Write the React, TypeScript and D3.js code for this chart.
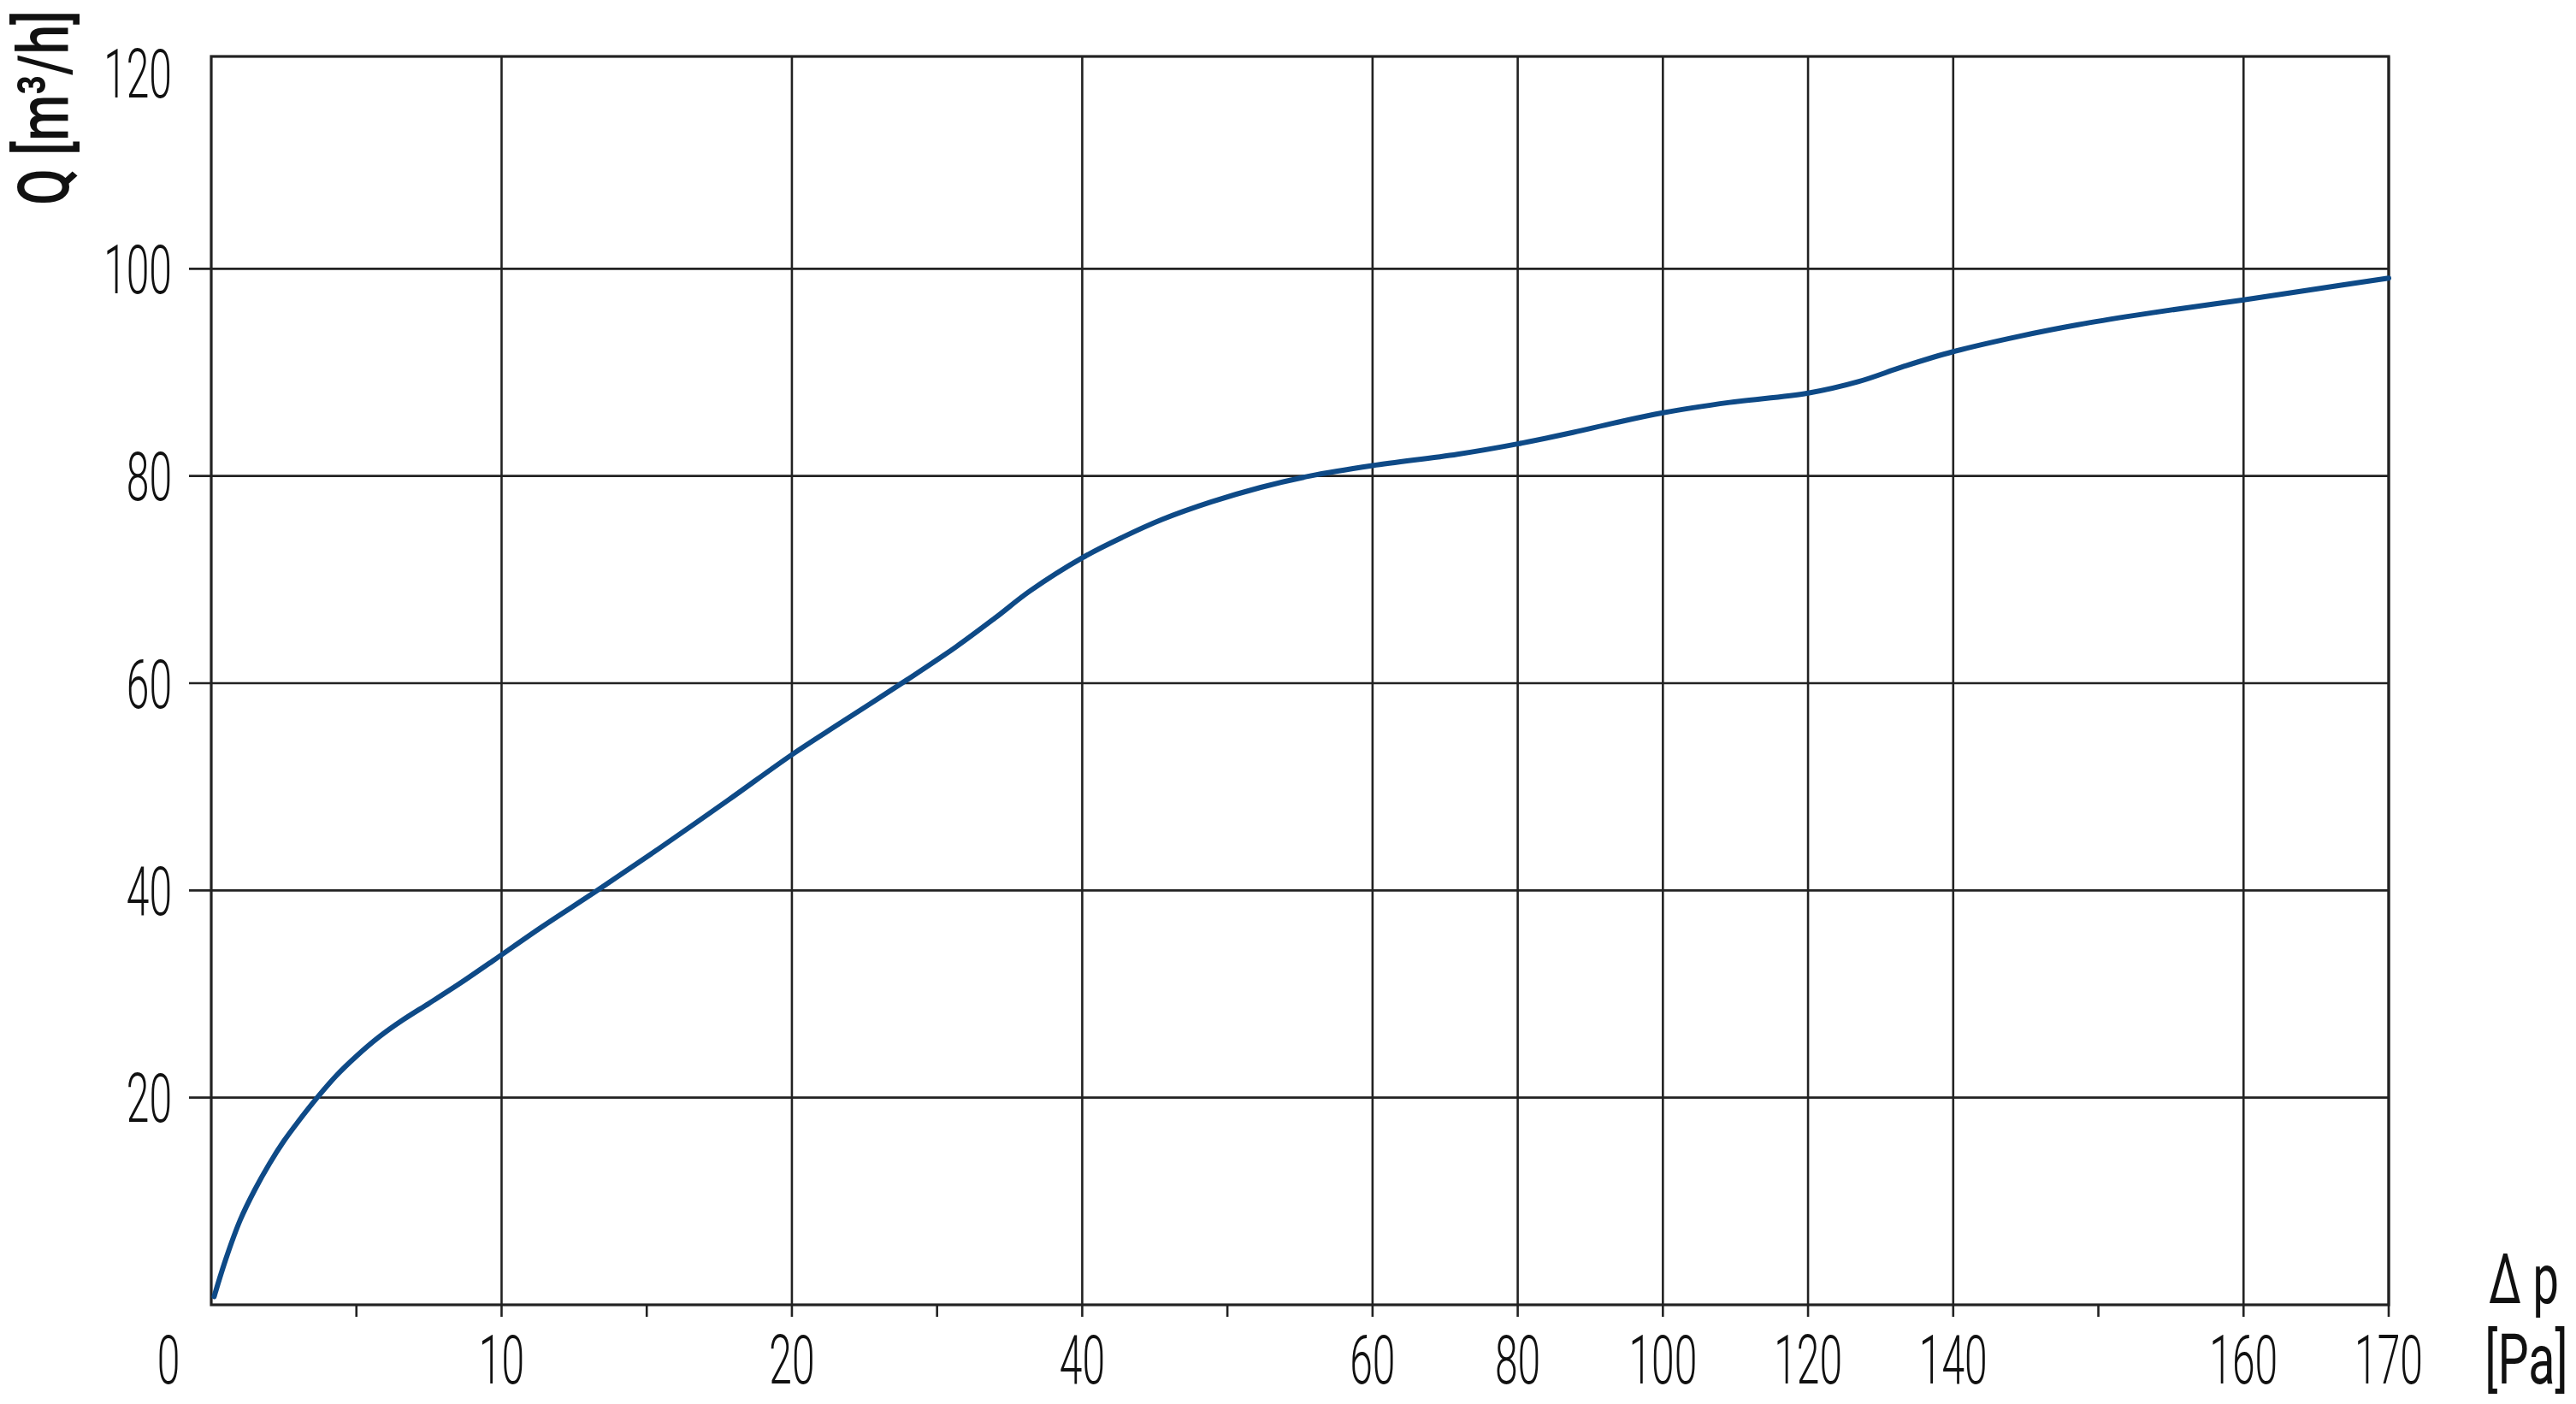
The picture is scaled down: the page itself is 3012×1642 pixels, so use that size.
import React from 'react';
import * as d3 from 'd3';

const W = 3012;
const H = 1642;
const margin = { left: 247, right: 219, top: 66, bottom: 116 };

// the pressure axis is stretched piecewise: each break sits on a grid step
const xBreaks = [0, 20, 60, 140, 160, 170];
const xBreakSteps = [0, 4, 8, 12, 14, 15];
const xMajorTicks = [0, 10, 20, 40, 60, 80, 100, 120, 140, 160, 170];
const xMinorTicks = [5, 15, 30, 50, 150];
const yTicks = [20, 40, 60, 80, 100, 120];

// Δp [Pa] -> Q [m³/h]
const pressure = [0.1, 0.5, 1.0, 1.5, 2.0, 2.5, 3.0, 3.65, 4.3, 5.0, 5.8, 6.6, 7.5, 8.5, 9.7, 11.4, 13.3, 15.4, 17.8, 20, 23.5, 27.9, 31.3, 34, 36.4, 40, 42.8, 45.5, 48.9, 52.3, 55.7, 60, 71.7, 80, 87.6, 93.2, 100, 109.2, 120, 126.9, 133.3, 140, 144.6, 148.6, 152.5, 156.4, 160, 164.3, 170];
const flow = [0.8, 4.4, 8.2, 11.1, 13.6, 15.8, 17.7, 20.0, 22.1, 24.0, 25.9, 27.5, 29.1, 30.9, 33.2, 36.5, 40.0, 44.0, 48.7, 53.1, 56.3, 60.3, 63.5, 66.3, 68.9, 72.1, 74.1, 75.8, 77.5, 78.9, 80.0, 81.0, 82.1, 83.1, 84.2, 85.1, 86.1, 87.1, 88.0, 89.1, 90.6, 92.0, 93.5, 94.6, 95.5, 96.3, 97.0, 97.9, 99.1];

const INK = '#222';
const CURVE = '#0e4a87';
const FONT = 'Roboto, "Open Sans", sans-serif';

export default function App() {
  const x0 = margin.left;
  const x1 = W - margin.right;
  const y0 = H - margin.bottom;
  const yTop = margin.top;
  const nSteps = xBreakSteps[xBreakSteps.length - 1];

  const x = d3.scaleLinear()
    .domain(xBreaks)
    .range(xBreakSteps.map(s => x0 + (s / nSteps) * (x1 - x0)));
  // top of frame sits a few px above the 120 level, as in the original drawing
  const y = d3.scaleLinear().domain([0, 120]).range([y0, yTop + 6]);

  const points = pressure.map((p, i) => [p, flow[i]] as [number, number]);
  const line = d3.line<[number, number]>()
    .x(d => x(d[0]))
    .y(d => y(d[1]))
    .curve(d3.curveCatmullRom.alpha(0.5));

  const tickFont = { fontFamily: FONT, fontWeight: 300, fontSize: 80, fill: '#111' };
  const unitFont = { fontFamily: FONT, fontWeight: 400, fontSize: 82, fill: '#111' };

  return (
    <svg width={W} height={H} style={{ position: 'absolute', left: 0, top: 0, background: '#fff' }}>
      <rect x={0} y={0} width={W} height={H} fill="#fff" />

      {/* horizontal grid + left ticks */}
      {yTicks.filter(v => v < 120).map(v => (
        <line key={'h' + v} x1={x0 - 26} x2={x1} y1={y(v)} y2={y(v)} stroke={INK} strokeWidth={2.6} />
      ))}

      {/* vertical grid + bottom ticks */}
      {xMajorTicks.filter(v => v > 0).map(v => (
        <line key={'v' + v} x1={x(v)} x2={x(v)} y1={yTop} y2={y0 + 14} stroke={INK} strokeWidth={2.6} />
      ))}
      {xMinorTicks.map(v => (
        <line key={'m' + v} x1={x(v)} x2={x(v)} y1={y0} y2={y0 + 14} stroke={INK} strokeWidth={2.6} />
      ))}

      {/* frame */}
      <rect x={x0} y={yTop} width={x1 - x0} height={y0 - yTop} fill="none" stroke={INK} strokeWidth={3.2} />

      {/* curve */}
      <path d={line(points) ?? ''} fill="none" stroke={CURVE} strokeWidth={6} strokeLinecap="round" strokeLinejoin="round" />

      {/* y tick labels */}
      {yTicks.map(v => (
        <text key={'yl' + v} transform={`translate(201,${y(v) + (v === 120 ? 13 : 0)}) scale(0.6,1)`}
          textAnchor="end" dy="0.36em" {...tickFont}>{v}</text>
      ))}

      {/* x tick labels */}
      {xMajorTicks.map(v => (
        <text key={'xl' + v} transform={`translate(${x(v) + (v === 0 ? -50 : 0)},1618) scale(0.6,1)`}
          textAnchor="middle" {...tickFont}>{v}</text>
      ))}

      {/* axis titles */}
      <text transform="translate(80,126) rotate(-90) scale(0.74,1)" textAnchor="middle"
        fontFamily={FONT} fontWeight={500} fontSize={84} fill="#111">Q [m³/h]</text>
      <text transform="translate(2951,1524) scale(0.66,1)" textAnchor="middle" {...unitFont}>Δ p</text>
      <text transform="translate(2954,1618) scale(0.7,1)" textAnchor="middle" {...unitFont}>[Pa]</text>
    </svg>
  );
}
